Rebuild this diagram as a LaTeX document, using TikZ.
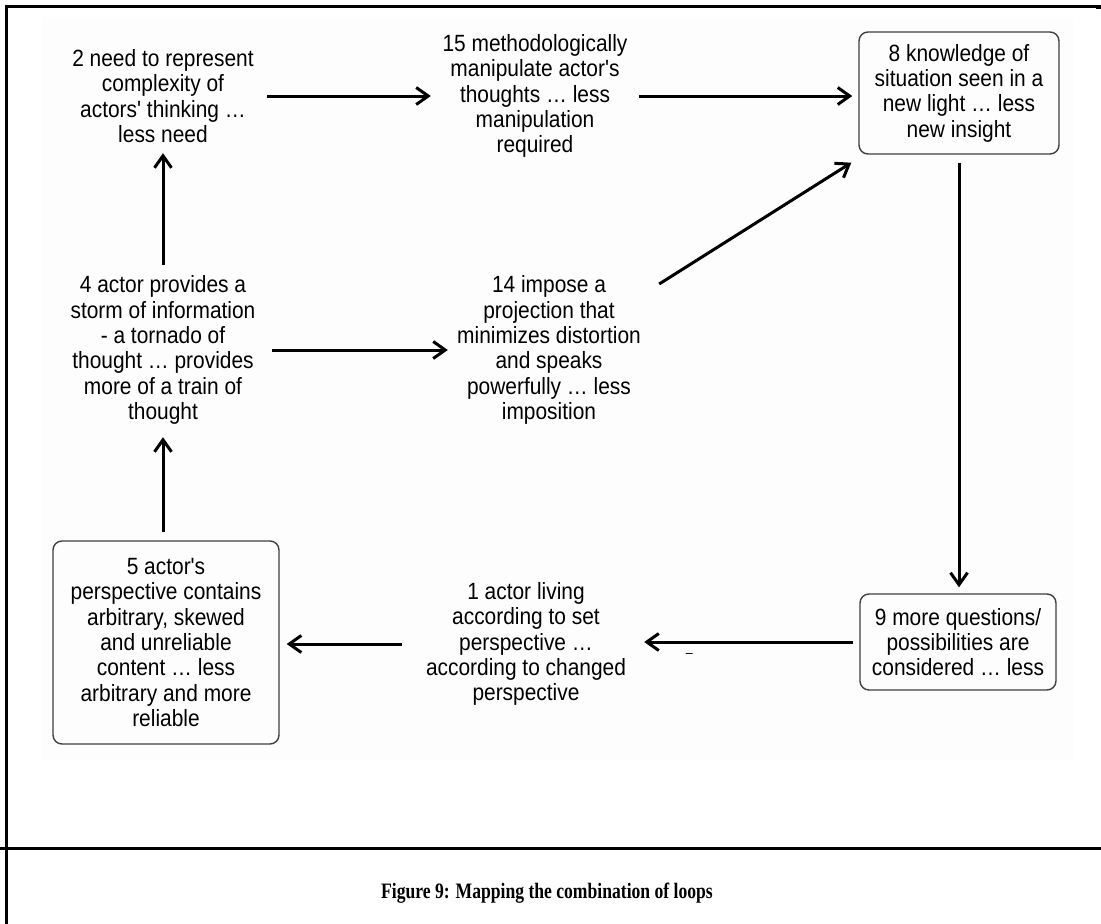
\documentclass[tikz,border=0pt]{standalone}
\usepackage{fontspec}
\setmainfont{Liberation Sans}[Ligatures=TeXOff, FakeStretch=0.89]
\newfontfamily\capfont{Liberation Serif}[FakeStretch=0.8]
\usetikzlibrary{arrows.meta}

\tikzset{
  lbl/.style={align=center, inner sep=0pt, text=black,
              font=\fontsize{23.5}{25.3}\selectfont},
  rbox/.style={lbl, draw=black!75, line width=1.4pt, rounded corners=9pt},
  arr/.style={line width=3pt,
              -{Straight Barb[length=12pt,width=17pt]}},
  frame/.style={line width=3pt, black},
}

\begin{document}
\begin{tikzpicture}[x=1pt, y=-1pt]
  \useasboundingbox (0,0) rectangle (1101,924);

  % pale panel behind the loop diagram
  \fill[black!0.8] (42,17) rectangle (1073,760);

  % outer frame and caption rule
  \draw[frame] (6,924) -- (6,6) -- (1101,6);
  \draw[line width=3pt] (1096,7) -- (1101,7);
  \draw[frame] (0,848) -- (1101,848);

  % nodes of the loop map
  \node[lbl, minimum width=208pt, minimum height=114pt] (n2) at (163,96)
    {2 need to represent\\complexity of\\actors' thinking …\\less need};
  \node[lbl, minimum width=208pt] (n15) at (535,96)
    {15 methodologically\\manipulate actor's\\thoughts … less\\manipulation\\required};
  \node[rbox, minimum width=200pt, minimum height=122pt] (n8) at (959,93)
    {8 knowledge of\\situation seen in a\\new light … less\\new insight};
  \node[lbl, minimum width=218pt, minimum height=170pt] (n4) at (163,350)
    {4 actor provides a\\storm of information\\- a tornado of\\thought … provides\\more of a train of\\thought};
  \node[lbl, minimum width=202pt] (n14) at (549,350)
    {14 impose a\\projection that\\minimizes distortion\\and speaks\\powerfully … less\\imposition};
  \node[rbox, minimum width=196pt, minimum height=96pt] (n9) at (958,642)
    {9 more questions/\\possibilities are\\considered … less};
  \node[lbl, minimum width=236pt] (n1) at (526,644)
    {1 actor living\\according to set\\perspective …\\according to changed\\perspective};
  \node[rbox, minimum width=226pt, minimum height=203pt] (n5) at (166,642.5)
    {5 actor's\\perspective contains\\arbitrary, skewed\\and unreliable\\content … less\\arbitrary and more\\reliable};

  % causal links
  \draw[arr] (n2.east) -- (n15.west);
  \draw[arr, shorten >=6pt] (n15.east) -- (n15.east -| n8.west);
  \draw[arr] (n4.north) -- (n2.south);
  \draw[arr] (n4.east) -- (n4.east -| n14.west);
  \draw[arr] ([shift={(9,-66)}]n14.east) -- ([shift={(-7,8)}]n8.south west);
  \draw[arr, shorten <=8pt, shorten >=6pt] (n8.south) -- (n8.south |- n9.north);
  \draw[arr, shorten <=6pt] (n9.west) -- (n9.west -| n1.east)
    node[pos=0.79, yshift=-13pt, inner sep=0pt, text=black,
         font=\fontsize{14}{14}\selectfont] (minus) {–};
  \draw[arr, shorten <=6pt, shorten >=7pt] (n1.west) -- (n1.west -| n5.east);
  \draw[arr, shorten <=8pt, shorten >=2pt] (n4.south |- n5.north) -- (n4.south);

  % caption
  \node[inner sep=0pt, font={\fontsize{22}{24}\capfont\bfseries}] (cap) at (547,893)
    {Figure 9: Mapping the combination of loops};
\end{tikzpicture}
\end{document}
